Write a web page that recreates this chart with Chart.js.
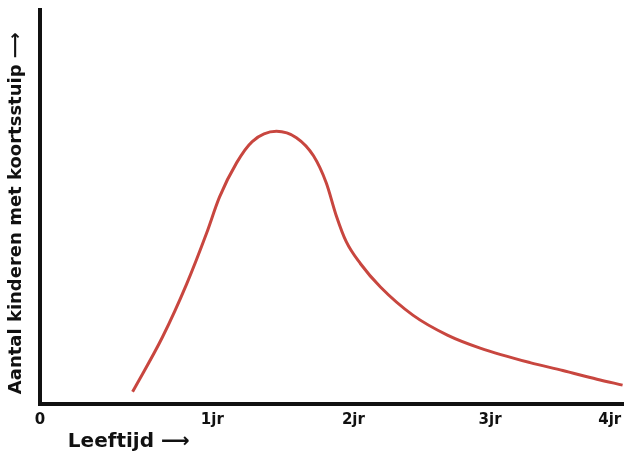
<!DOCTYPE html>
<html>
<head>
<meta charset="utf-8">
<script src="https://cdn.jsdelivr.net/npm/chart.js@4"></script>
<style>
html,body{margin:0;padding:0;background:#fff;}
#wrap{width:624px;height:459px;}
</style>
</head>
<body>
<div id="wrap"><canvas id="c"></canvas></div>
<script>
// Age (in drawn axis units) and number of children (relative scale 0-100)
const ageValues = [0.65, 0.86, 1.03, 1.17, 1.26, 1.38, 1.49, 1.66, 1.80, 1.92, 2.01, 2.08, 2.15, 2.25, 2.39, 2.62, 2.86, 3.09, 3.44, 3.67, 3.91, 4.09];
const countValues = [3.1, 17.0, 30.5, 43.4, 52.5, 61.2, 66.6, 69.2, 67.6, 63.0, 56.1, 47.8, 41.2, 35.6, 29.7, 22.5, 17.5, 14.2, 10.5, 8.5, 6.3, 4.8];
const tickValues = [0, 1.21, 2.2, 3.16, 4];
const tickLabels = ["0", "1jr", "2jr", "3jr", "4jr"];
const xTitle = "    Leeftijd ⟶";
const yTitle = "Aantal kinderen met koortsstuip ⟶  ";

const points = ageValues.map((a, i) => ({x: a, y: countValues[i]}));

new Chart(document.getElementById('c'), {
  type: 'line',
  data: {
    datasets: [{
      data: points,
      borderColor: '#c8463f',
      borderWidth: 3,
      pointRadius: 0,
      cubicInterpolationMode: 'monotone',
      fill: false
    }]
  },
  options: {
    responsive: true,
    maintainAspectRatio: false,
    animation: false,
    layout: {padding: {top: 10, right: 0, left: 0, bottom: 0}},
    plugins: {legend: {display: false}, tooltip: {enabled: false}},
    scales: {
      x: {
        type: 'linear',
        min: 0,
        max: 4.1,
        afterBuildTicks: (scale) => { scale.ticks = tickValues.map(v => ({value: v})); },
        afterFit: (scale) => { scale.height = 55; scale.paddingRight = 0; scale.paddingLeft = 0; },
        grid: {display: false, drawTicks: false},
        border: {display: true, color: '#111', width: 4},
        ticks: {
          autoSkip: false,
          maxRotation: 0,
          padding: 7,
          color: '#111',
          font: {family: 'DejaVu Sans', size: 15, weight: 'bold'},
          callback: (v, i) => tickLabels[i]
        },
        title: {
          display: true,
          text: xTitle,
          align: 'start',
          color: '#111',
          padding: {top: 0, bottom: 5},
          font: {family: 'DejaVu Sans', size: 20, weight: 'bold'}
        }
      },
      y: {
        type: 'linear',
        min: 0,
        max: 100,
        afterFit: (scale) => { scale.width = 40; },
        grid: {display: false, drawTicks: false},
        border: {display: true, color: '#111', width: 4},
        ticks: {display: false},
        title: {
          display: true,
          text: yTitle,
          color: '#111',
          padding: {top: 6, bottom: 0},
          font: {family: 'DejaVu Sans', size: 18, weight: 'bold'}
        }
      }
    }
  }
});
</script>
</body>
</html>
